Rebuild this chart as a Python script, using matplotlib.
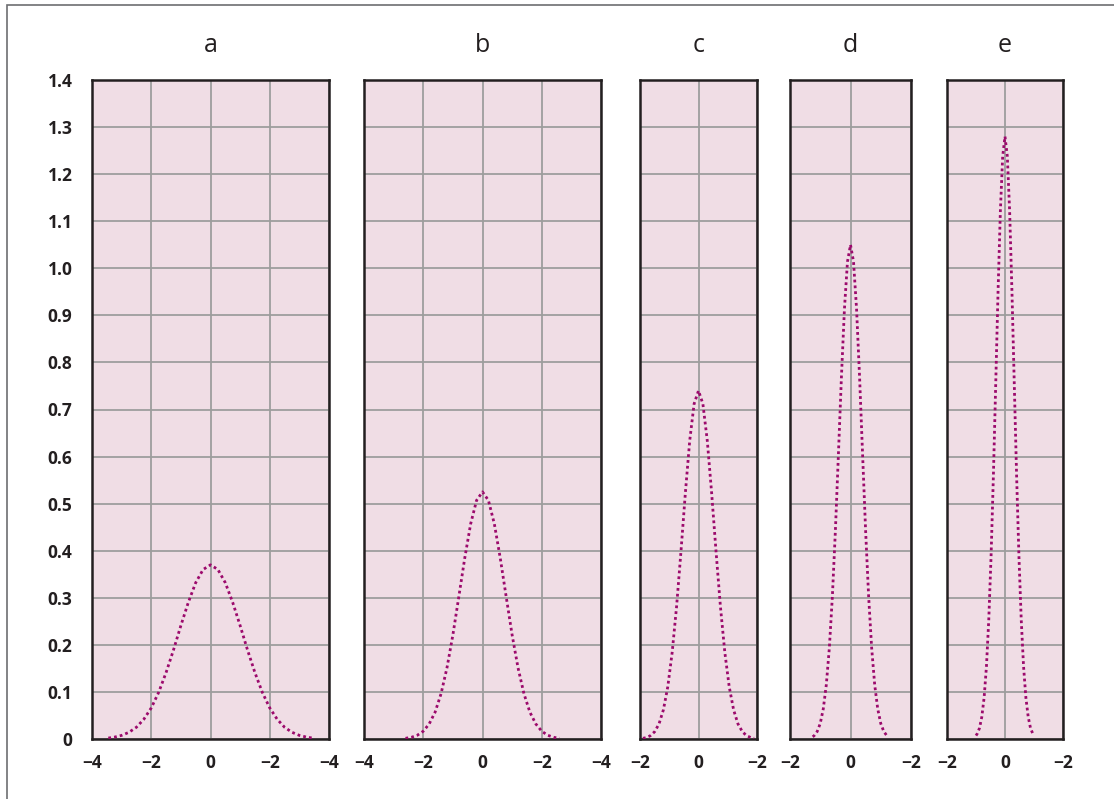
import matplotlib
matplotlib.use("Agg")
import matplotlib.pyplot as plt
from matplotlib.patches import Rectangle

plt.rcParams['font.family'] = ['Open Sans', 'DejaVu Sans']

titles = ["a", "b", "c", "d", "e"]

xa = [-3.45, -3.25, -3.0, -2.75, -2.5, -2.25, -2.0, -1.75, -1.5, -1.25, -1.0, -0.75, -0.5, -0.25, 0.0,
      0.25, 0.5, 0.75, 1.0, 1.25, 1.5, 1.75, 2.0, 2.25, 2.5, 2.75, 3.0, 3.25, 3.45]
ya = [0.002, 0.0039, 0.0077, 0.0143, 0.025, 0.042, 0.066, 0.099, 0.141, 0.189, 0.241, 0.290, 0.332, 0.360, 0.370,
      0.360, 0.332, 0.290, 0.241, 0.189, 0.141, 0.099, 0.066, 0.042, 0.025, 0.0143, 0.0077, 0.0039, 0.002]

xb = [-2.6, -2.4, -2.2, -2.0, -1.8, -1.6, -1.4, -1.2, -1.0, -0.8, -0.6, -0.4, -0.2, 0.0,
      0.2, 0.4, 0.6, 0.8, 1.0, 1.2, 1.4, 1.6, 1.8, 2.0, 2.2, 2.4, 2.6]
yb = [0.0015, 0.0036, 0.0080, 0.0165, 0.032, 0.057, 0.096, 0.151, 0.221, 0.302, 0.384, 0.457, 0.507, 0.525,
      0.507, 0.457, 0.384, 0.302, 0.221, 0.151, 0.096, 0.057, 0.032, 0.0165, 0.0080, 0.0036, 0.0015]

xc = [-1.9, -1.8, -1.65, -1.5, -1.35, -1.2, -1.05, -0.9, -0.75, -0.6, -0.45, -0.3, -0.15, 0.0,
      0.15, 0.3, 0.45, 0.6, 0.75, 0.9, 1.05, 1.2, 1.35, 1.5, 1.65, 1.8, 1.9]
yc = [0.0015, 0.0028, 0.0068, 0.0154, 0.032, 0.062, 0.111, 0.184, 0.281, 0.398, 0.522, 0.634, 0.712, 0.740,
      0.712, 0.634, 0.522, 0.398, 0.281, 0.184, 0.111, 0.062, 0.032, 0.0154, 0.0068, 0.0028, 0.0015]

xd = [-1.25, -1.2, -1.1, -1.0, -0.9, -0.8, -0.7, -0.6, -0.5, -0.4, -0.3, -0.2, -0.1, 0.0,
      0.1, 0.2, 0.3, 0.4, 0.5, 0.6, 0.7, 0.8, 0.9, 1.0, 1.1, 1.2, 1.25]
yd = [0.0047, 0.0072, 0.016, 0.033, 0.064, 0.115, 0.193, 0.302, 0.442, 0.604, 0.769, 0.914, 1.014, 1.050,
      1.014, 0.914, 0.769, 0.604, 0.442, 0.302, 0.193, 0.115, 0.064, 0.033, 0.016, 0.0072, 0.0047]

xe = [-1.0, -0.96, -0.88, -0.8, -0.72, -0.64, -0.56, -0.48, -0.4, -0.32, -0.24, -0.16, -0.08, 0.0,
      0.08, 0.16, 0.24, 0.32, 0.4, 0.48, 0.56, 0.64, 0.72, 0.8, 0.88, 0.96, 1.0]
ye = [0.0073, 0.011, 0.023, 0.047, 0.088, 0.154, 0.253, 0.389, 0.560, 0.754, 0.950, 1.121, 1.238, 1.280,
      1.238, 1.121, 0.950, 0.754, 0.560, 0.389, 0.253, 0.154, 0.088, 0.047, 0.023, 0.011, 0.0073]

xlims = [(-4, 4), (-4, 4), (-2, 2), (-2, 2), (-2, 2)]
xticks_wide = [-4, -2, 0, 2, 4]
xticklabels_wide = ["\u22124", "\u22122", "0", "\u22122", "\u22124"]
xticks_narrow = [-2, 0, 2]
xticklabels_narrow = ["\u22122", "0", "\u22122"]
yticks = [0, 0.1, 0.2, 0.3, 0.4, 0.5, 0.6, 0.7, 0.8, 0.9, 1.0, 1.1, 1.2, 1.3, 1.4]
yticklabels = ["0", "0.1", "0.2", "0.3", "0.4", "0.5", "0.6", "0.7", "0.8", "0.9", "1.0", "1.1", "1.2", "1.3", "1.4"]

xs = [xa, xb, xc, xd, xe]
ys = [ya, yb, yc, yd, ye]

W, H = 1114, 799
fig = plt.figure(figsize=(W / 100, H / 100), dpi=100)
fig.patch.set_facecolor("white")

# outer frame
fig.add_artist(Rectangle((7 / W, -0.05), 1.2, 1 - 5 / H + 0.05, transform=fig.transFigure,
                         fill=False, edgecolor="#6d6e71", linewidth=1.2))

px = [(92, 329), (364, 601), (640, 757), (790, 911), (947, 1063)]
top, bottom = 80, 739

curve_color = "#9c0a6c"
bg = "#f0dde5"
grid_c = "#9d9d9d"
frame_c = "#231f20"

for i in range(5):
    l, r = px[i]
    ax = fig.add_axes([l / W, 1 - bottom / H, (r - l) / W, (bottom - top) / H])
    ax.set_facecolor(bg)
    ax.set_xlim(*xlims[i])
    ax.set_ylim(0, 1.4)
    if i < 2:
        ax.set_xticks(xticks_wide)
        ax.set_xticklabels(xticklabels_wide)
    else:
        ax.set_xticks(xticks_narrow)
        ax.set_xticklabels(xticklabels_narrow)
    ax.set_yticks(yticks)
    if i == 0:
        ax.set_yticklabels(yticklabels)
    else:
        ax.set_yticklabels([])
    ax.tick_params(length=0, labelsize=12.5, colors="#231f20")
    for lab in ax.get_xticklabels() + ax.get_yticklabels():
        lab.set_fontweight("bold")
    ax.tick_params(axis="x", pad=11)
    ax.tick_params(axis="y", pad=14)
    ax.grid(True, color=grid_c, linewidth=1.3)
    ax.set_axisbelow(True)
    for s in ax.spines.values():
        s.set_color(frame_c)
        s.set_linewidth(1.8)
    ax.plot(xs[i], ys[i], color=curve_color, linestyle=(0, (1, 1.1)), linewidth=2.0, zorder=3)
    ax.set_title(titles[i], fontsize=18, color="#231f20", pad=20)

fig.savefig("out.png", dpi=100)
